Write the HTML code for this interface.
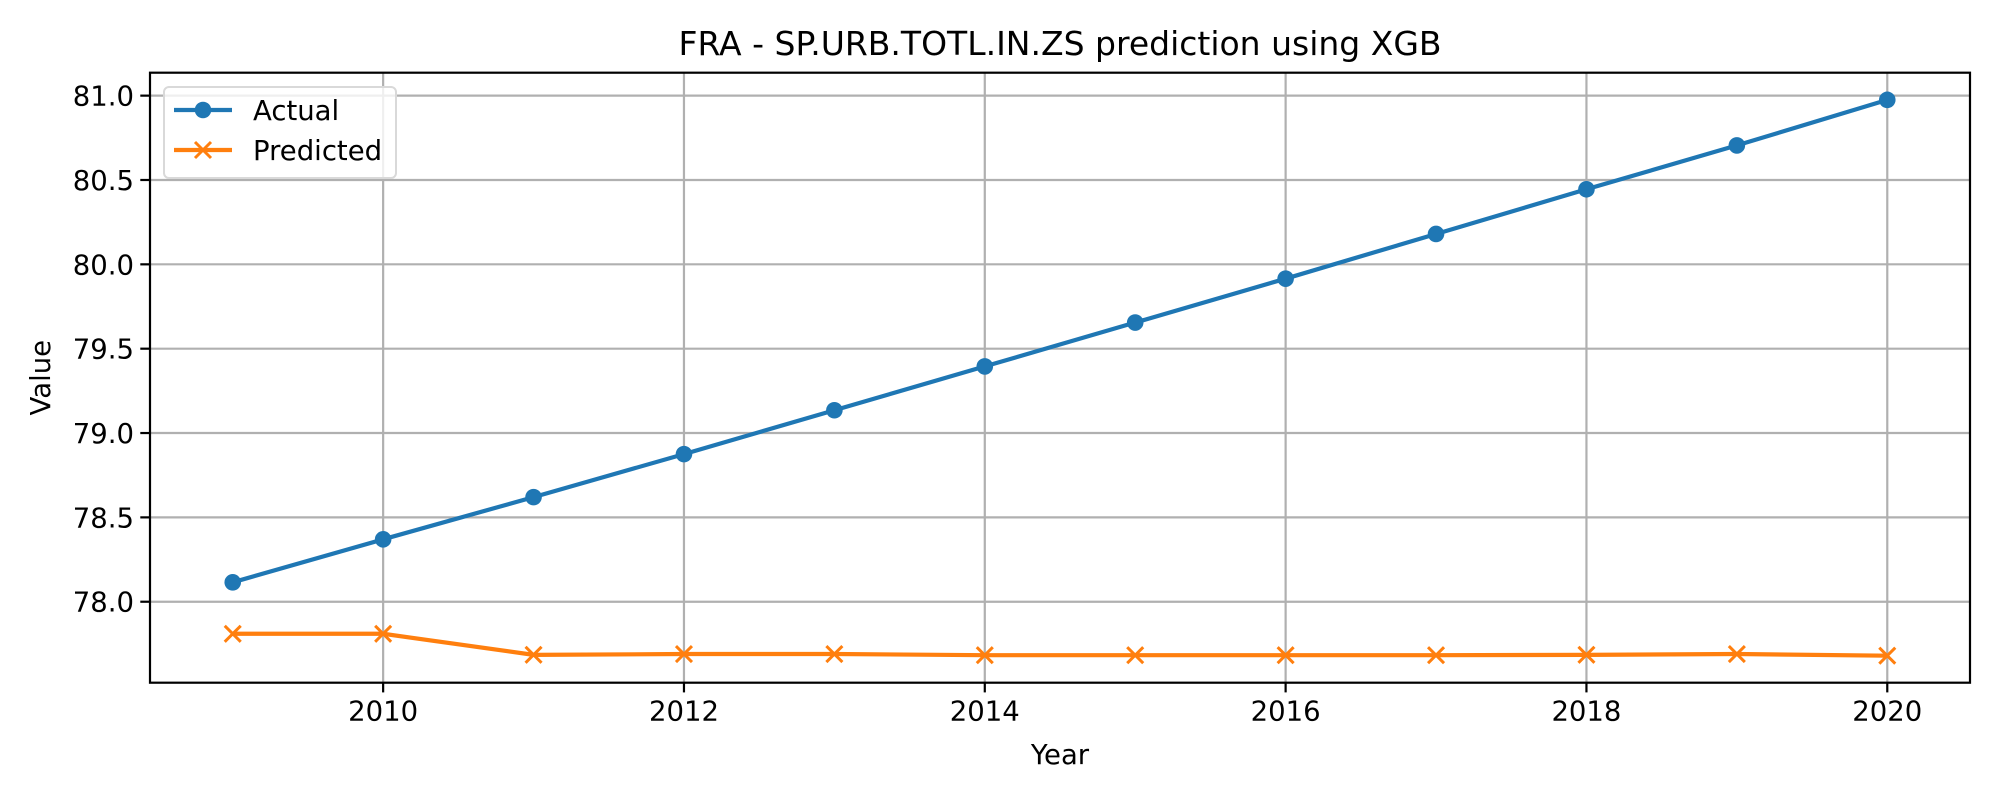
<!DOCTYPE html>
<html><head><meta charset="utf-8"><style>body{margin:0;background:#fff}svg{display:block;font-family:"DejaVu Sans","Liberation Sans",sans-serif}</style></head>
<body>
<svg id="chart" width="2000" height="800" xmlns="http://www.w3.org/2000/svg"></svg>
<script>
const years=[2009,2010,2011,2012,2013,2014,2015,2016,2017,2018,2019,2020];
const actual=[78.115,78.37,78.62,78.875,79.135,79.395,79.655,79.915,80.18,80.445,80.705,80.975];
const predicted=[77.81,77.81,77.685,77.69,77.69,77.683,77.683,77.683,77.683,77.685,77.69,77.68];
const xTicks=[2010,2012,2014,2016,2018,2020];
const yTicks=[78.0,78.5,79.0,79.5,80.0,80.5,81.0];
const L=150,R=1970,T=72.7,B=682.7,X0=2008.45,X1=2020.55,Y0=77.52,Y1=81.136;
const sx=v=>L+(v-X0)/(X1-X0)*(R-L), sy=v=>B-(v-Y0)/(Y1-Y0)*(B-T);
const svg=document.getElementById('chart');const NS='http://www.w3.org/2000/svg';
function mk(t,a,p){const e=document.createElementNS(NS,t);for(const k in a)e.setAttribute(k,a[k]);(p||svg).appendChild(e);return e;}
xTicks.forEach(v=>{const x=sx(v);
const g=mk('line',{x1:x,x2:x,y1:T,y2:B,stroke:'#b0b0b0','stroke-width':2.2});


mk('line',{x1:x,x2:x,y1:B,y2:B+9.7,stroke:'#000','stroke-width':2.2});
const t=mk('text',{x:x,y:B+38,'text-anchor':'middle','font-size':27.5});t.textContent=v;

});
yTicks.forEach(v=>{const y=sy(v);
const g=mk('line',{x1:L,x2:R,y1:y,y2:y,stroke:'#b0b0b0','stroke-width':2.2});


mk('line',{x1:L-9.7,x2:L,y1:y,y2:y,stroke:'#000','stroke-width':2.2});
const t=mk('text',{x:L-16,y:y+10,'text-anchor':'end','font-size':27.5});t.textContent=v.toFixed(1);

});
const pa=mk('polyline',{points:years.map((y,i)=>sx(y)+','+sy(actual[i])).join(' '),fill:'none',stroke:'#1f77b4','stroke-width':4.2});


years.forEach((y,i)=>{const c=mk('circle',{cx:sx(y),cy:sy(actual[i]),r:8.3,fill:'#1f77b4'});

});
const pp=mk('polyline',{points:years.map((y,i)=>sx(y)+','+sy(predicted[i])).join(' '),fill:'none',stroke:'#ff7f0e','stroke-width':4.2});


function cross(x,y,name){const p=mk('path',{d:`M${x-8} ${y-8}L${x+8} ${y+8}M${x-8} ${y+8}L${x+8} ${y-8}`,stroke:'#ff7f0e','stroke-width':3,fill:'none'});

}
years.forEach((y,i)=>cross(sx(y),sy(predicted[i]),'predicted-point'));
const fr=mk('rect',{x:L,y:T,width:R-L,height:B-T,fill:'none',stroke:'#000','stroke-width':2.2});


const lg=mk('g',{});


mk('rect',{x:164,y:87,width:232,height:91,rx:5,fill:'#fff','fill-opacity':0.8,stroke:'#d9d9d9','stroke-width':2},lg);
mk('line',{x1:174,x2:232,y1:110,y2:110,stroke:'#1f77b4','stroke-width':4.2},lg);
mk('circle',{cx:203,cy:110,r:8.3,fill:'#1f77b4'},lg);
let t1=mk('text',{x:253,y:120,'font-size':27.5},lg);t1.textContent='Actual';


mk('line',{x1:174,x2:232,y1:150,y2:150,stroke:'#ff7f0e','stroke-width':4.2},lg);
mk('path',{d:'M195 142L211 158M195 158L211 142',stroke:'#ff7f0e','stroke-width':3},lg);
let t2=mk('text',{x:253,y:160,'font-size':27.5},lg);t2.textContent='Predicted';


const tt=mk('text',{x:(L+R)/2,y:55,'text-anchor':'middle','font-size':33});tt.textContent='FRA - SP.URB.TOTL.IN.ZS prediction using XGB';


const xl=mk('text',{x:(L+R)/2,y:764,'text-anchor':'middle','font-size':27.5});xl.textContent='Year';


const yl=mk('text',{x:0,y:0,'text-anchor':'middle','font-size':27.5,transform:`translate(50,${(T+B)/2}) rotate(-90)`});yl.textContent='Value';


</script>
</body></html>
